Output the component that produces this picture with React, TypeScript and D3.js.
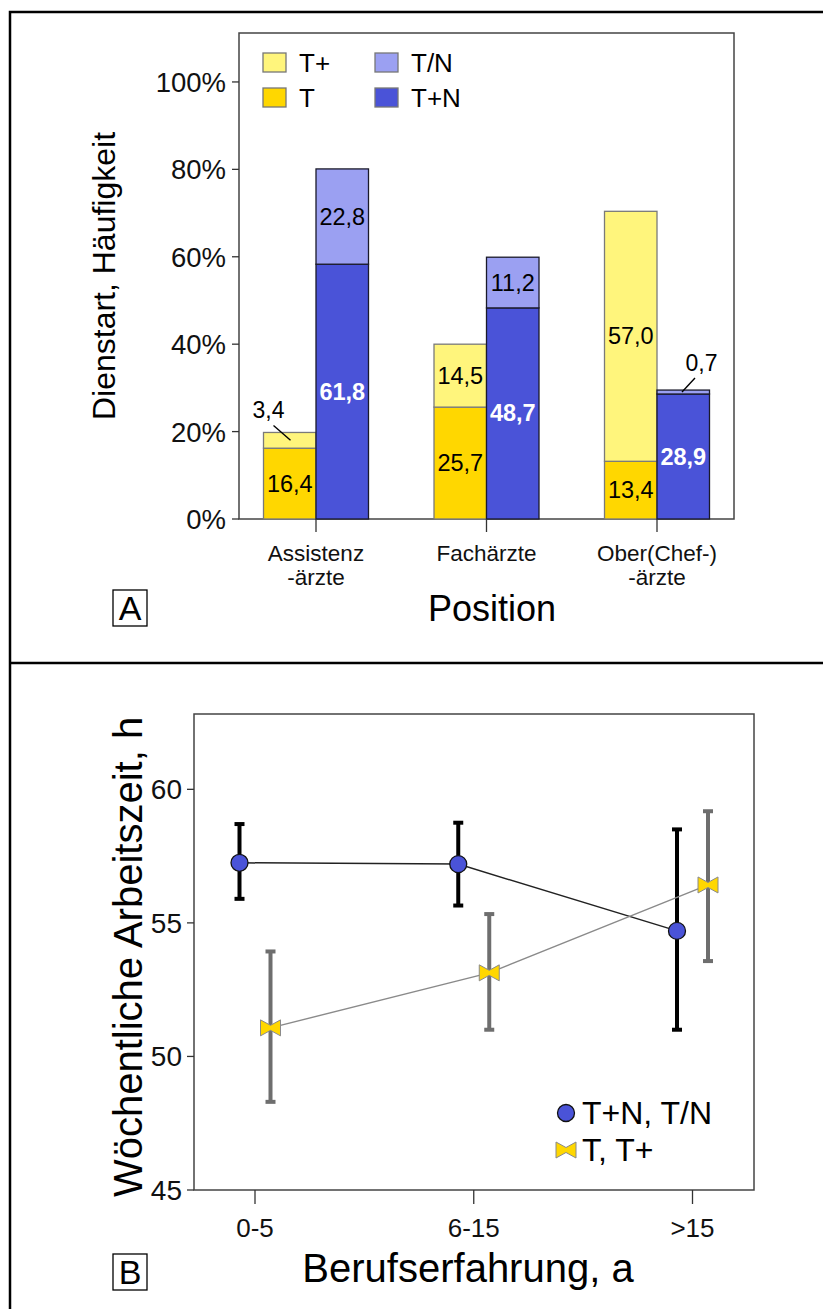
import React from "react";
import * as d3 from "d3";

// ---------- Panel A data ----------
const positions = ["Assistenz", "Fachärzte", "Ober(Chef-)"];
const positionLines = [["Assistenz", "-ärzte"], ["Fachärzte"], ["Ober(Chef-)", "-ärzte"]];
const seriesT = [16.2, 25.6, 13.2];
const seriesTplus = [3.6, 14.4, 57.2];
const seriesTplusN = [58.3, 48.3, 28.6];
const seriesTslashN = [21.8, 11.6, 0.9];
const labelT = ["16,4", "25,7", "13,4"];
const labelTplus = ["3,4", "14,5", "57,0"];
const labelTplusN = ["61,8", "48,7", "28,9"];
const labelTslashN = ["22,8", "11,2", "0,7"];
const yTicksA = [0, 20, 40, 60, 80, 100];

// ---------- Panel B data ----------
const experience = ["0-5", "6-15", ">15"];
const blueMean = [57.25, 57.2, 54.7];
const blueLo = [55.9, 55.65, 51.0];
const blueHi = [58.7, 58.75, 58.5];
const yellowMean = [51.07, 53.13, 56.42];
const yellowLo = [48.3, 51.0, 53.57];
const yellowHi = [53.93, 55.33, 59.18];
const yTicksB = [45, 50, 55, 60];

const C_TPLUS = "#FFF57C";
const C_T = "#FFD700";
const C_TN = "#9BA0F2";
const C_TPN = "#4A53D8";
const FONT = "'Liberation Sans', Arial, Helvetica, sans-serif";

export default function App() {
  // Panel A scales
  const yA = d3.scaleLinear().domain([0, 111.2]).range([519, 33]);
  const xA = d3.scalePoint<string>().domain(positions).range([316, 657]);
  const bw = 52.5;
  const plotA = { l: 239, r: 734, t: 33, b: 519 };

  // Panel B scales
  const yB = d3.scaleLinear().domain([45, 62.82]).range([1190, 714]);
  const xB = d3.scalePoint<string>().domain(experience).range([255, 692.5]);
  const plotB = { l: 194, r: 754, t: 714, b: 1190 };
  const off = 15.5;

  const segs: any[] = [];
  positions.forEach((p, i) => {
    const cx = xA(p)!;
    segs.push({ x: cx - bw, y0: 0, y1: seriesT[i], fill: C_T, stroke: "#7a7a7a", label: labelT[i], white: false });
    segs.push({ x: cx - bw, y0: seriesT[i], y1: seriesT[i] + seriesTplus[i], fill: C_TPLUS, stroke: "#7a7a7a", label: labelTplus[i], white: false, side: "left" });
    segs.push({ x: cx, y0: 0, y1: seriesTplusN[i], fill: C_TPN, stroke: "#1a1a2a", label: labelTplusN[i], white: true });
    segs.push({ x: cx, y0: seriesTplusN[i], y1: seriesTplusN[i] + seriesTslashN[i], fill: C_TN, stroke: "#1a1a2a", label: labelTslashN[i], white: false, side: "right" });
  });

  const line = d3.line<number>();
  const blueLine = line(experience.map((e, i) => [xB(e)! - off, yB(blueMean[i])] as any) as any);
  const yellowLine = line(experience.map((e, i) => [xB(e)! + off, yB(yellowMean[i])] as any) as any);

  const bowtie = "M-10,-8 L0,-2.5 L10,-8 L10,8 L0,2.5 L-10,8 Z";

  return (
    <svg width={823} height={1309} style={{ position: "absolute", left: 0, top: 0, background: "#fff" }} fontFamily={FONT}>
      <rect x={0} y={0} width={823} height={1309} fill="#fff" />
      {/* outer frame */}
      <rect x={10} y={12} width={830} height={1320} fill="none" stroke="#000" strokeWidth={2.5} />
      <line x1={10} x2={823} y1={663} y2={663} stroke="#000" strokeWidth={2.5} />

      {/* ---------- Panel A ---------- */}
      <rect x={plotA.l} y={plotA.t} width={plotA.r - plotA.l} height={plotA.b - plotA.t} fill="none" stroke="#444" strokeWidth={1.5} />
      {yTicksA.map((t) => (
        <g key={t}>
          <line x1={plotA.l - 7} x2={plotA.l} y1={yA(t)} y2={yA(t)} stroke="#333" strokeWidth={1.3} />
          <text x={plotA.l - 13} y={yA(t) + 10} fontSize={27.5} textAnchor="end" fill="#111">{t}%</text>
        </g>
      ))}
      {segs.map((s, k) => (
        <rect key={k} x={s.x} y={yA(s.y1)} width={bw} height={yA(s.y0) - yA(s.y1)} fill={s.fill} stroke={s.stroke} strokeWidth={1.3} />
      ))}
      {segs.map((s, k) => {
        const h = s.y1 - s.y0;
        const top = yA(s.y1);
        const mid = (yA(s.y0) + yA(s.y1)) / 2;
        if (h < 5 && s.side === "left") {
          return (
            <g key={"l" + k}>
              <text x={s.x + 5} y={top - 14} fontSize={23} textAnchor="middle" fill="#000">{s.label}</text>
              <line x1={s.x + 10} y1={top - 7} x2={s.x + 27} y2={mid} stroke="#000" strokeWidth={1.4} />
            </g>
          );
        }
        if (h < 5 && s.side === "right") {
          return (
            <g key={"l" + k}>
              <text x={s.x + bw - 8} y={top - 19} fontSize={23} textAnchor="middle" fill="#000">{s.label}</text>
              <line x1={s.x + bw - 14.5} y1={top - 12} x2={s.x + 25} y2={mid} stroke="#000" strokeWidth={1.4} />
            </g>
          );
        }
        return (
          <text key={"l" + k} x={s.x + bw / 2} y={mid + 8} fontSize={23.5} textAnchor="middle"
            fill={s.white ? "#fff" : "#000"} fontWeight={s.white ? "bold" : "normal"}>{s.label}</text>
        );
      })}
      {positions.map((p, i) => (
        <g key={p}>
          <line x1={xA(p)} x2={xA(p)} y1={plotA.b} y2={plotA.b + 13} stroke="#333" strokeWidth={1.3} />
          {positionLines[i].map((ln, j) => (
            <text key={j} x={xA(p)} y={561 + j * 24} fontSize={22.5} textAnchor="middle" fill="#111">{ln}</text>
          ))}
        </g>
      ))}
      {/* legend A */}
      {[
        { x: 263, y: 53, c: C_TPLUS, t: "T+" },
        { x: 263, y: 88, c: C_T, t: "T" },
        { x: 375, y: 53, c: C_TN, t: "T/N" },
        { x: 375, y: 88, c: C_TPN, t: "T+N" },
      ].map((d) => (
        <g key={d.t}>
          <rect x={d.x} y={d.y} width={23} height={19} fill={d.c} stroke="#777" strokeWidth={1.3} />
          <text x={d.x + 36} y={d.y + 19} fontSize={26} fill="#000">{d.t}</text>
        </g>
      ))}
      <text transform="translate(115,276) rotate(-90)" fontSize={32} textAnchor="middle" fill="#000">Dienstart, Häufigkeit</text>
      <text x={492} y={621} fontSize={36} textAnchor="middle" fill="#000">Position</text>
      <rect x={113} y={590} width={34} height={36} fill="none" stroke="#000" strokeWidth={1.3} />
      <text x={130} y={620} fontSize={34} textAnchor="middle" fill="#000">A</text>

      {/* ---------- Panel B ---------- */}
      <rect x={plotB.l} y={plotB.t} width={plotB.r - plotB.l} height={plotB.b - plotB.t} fill="none" stroke="#444" strokeWidth={1.5} />
      {yTicksB.map((t) => (
        <g key={t}>
          <line x1={plotB.l - 7} x2={plotB.l} y1={yB(t)} y2={yB(t)} stroke="#333" strokeWidth={1.3} />
          <text x={plotB.l - 12} y={yB(t) + 10} fontSize={28} textAnchor="end" fill="#111">{t}</text>
        </g>
      ))}
      {experience.map((e) => (
        <g key={e}>
          <line x1={xB(e)} x2={xB(e)} y1={plotB.b} y2={plotB.b + 14} stroke="#333" strokeWidth={1.3} />
          <text x={xB(e)} y={1237} fontSize={26} textAnchor="middle" fill="#111">{e}</text>
        </g>
      ))}
      {/* error bars */}
      {experience.map((e, i) => {
        const xb = xB(e)! - off;
        const xy = xB(e)! + off;
        return (
          <g key={"eb" + e}>
            <line x1={xb} x2={xb} y1={yB(blueLo[i])} y2={yB(blueHi[i])} stroke="#000" strokeWidth={4} />
            <line x1={xb - 5} x2={xb + 5} y1={yB(blueLo[i])} y2={yB(blueLo[i])} stroke="#000" strokeWidth={4} />
            <line x1={xb - 5} x2={xb + 5} y1={yB(blueHi[i])} y2={yB(blueHi[i])} stroke="#000" strokeWidth={4} />
            <line x1={xy} x2={xy} y1={yB(yellowLo[i])} y2={yB(yellowHi[i])} stroke="#6e6e6e" strokeWidth={4} />
            <line x1={xy - 5} x2={xy + 5} y1={yB(yellowLo[i])} y2={yB(yellowLo[i])} stroke="#6e6e6e" strokeWidth={4} />
            <line x1={xy - 5} x2={xy + 5} y1={yB(yellowHi[i])} y2={yB(yellowHi[i])} stroke="#6e6e6e" strokeWidth={4} />
          </g>
        );
      })}
      <path d={blueLine!} fill="none" stroke="#222" strokeWidth={1.5} />
      <path d={yellowLine!} fill="none" stroke="#8a8a8a" strokeWidth={1.4} />
      {experience.map((e, i) => (
        <g key={"m" + e}>
          <circle cx={xB(e)! - off} cy={yB(blueMean[i])} r={8.5} fill={C_TPN} stroke="#111" strokeWidth={1.3} />
          <path d={bowtie} transform={`translate(${xB(e)! + off},${yB(yellowMean[i])})`} fill={C_T} stroke="#8a8a8a" strokeWidth={1} />
        </g>
      ))}
      {/* legend B */}
      <circle cx={566} cy={1113} r={8.5} fill={C_TPN} stroke="#111" strokeWidth={1.3} />
      <text x={582} y={1124} fontSize={32} fill="#000">T+N, T/N</text>
      <path d={bowtie} transform="translate(566,1150)" fill={C_T} stroke="#8a8a8a" strokeWidth={1} />
      <text x={582} y={1161} fontSize={32} fill="#000">T, T+</text>

      <text transform="translate(142,957) rotate(-90)" fontSize={40} textAnchor="middle" fill="#000">Wöchentliche Arbeitszeit, h</text>
      <text x={468} y={1282} fontSize={40} textAnchor="middle" fill="#000">Berufserfahrung, a</text>
      <rect x={113} y={1254} width={34} height={36} fill="none" stroke="#000" strokeWidth={1.3} />
      <text x={130} y={1284} fontSize={34} textAnchor="middle" fill="#000">B</text>
    </svg>
  );
}
